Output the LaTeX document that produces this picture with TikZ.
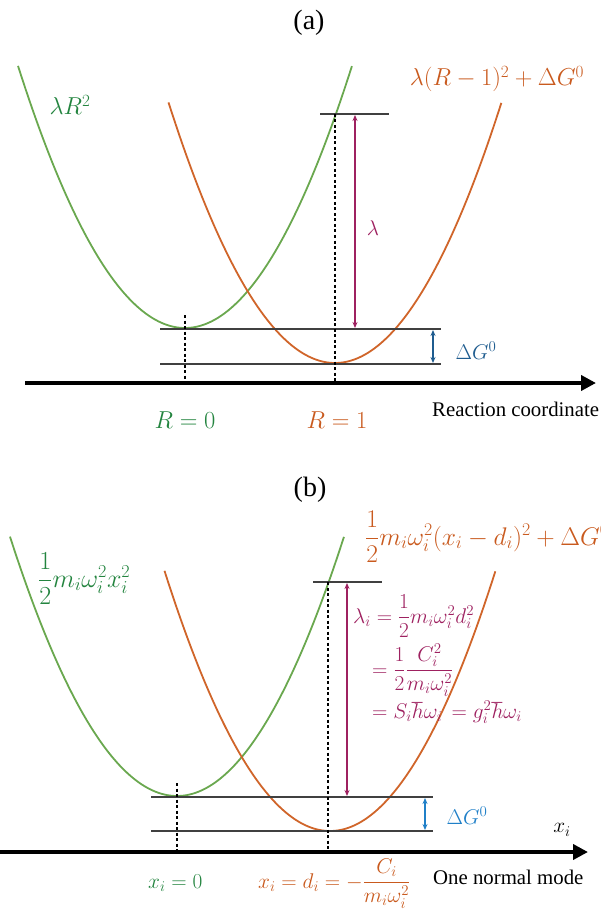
\RequirePackage{fix-cm}
\documentclass[tikz,border=0pt]{standalone}
\usepackage{amsmath}
\usepackage{fontspec}
\setmainfont{Liberation Serif}
\usetikzlibrary{arrows.meta}
\definecolor{cgreen}{HTML}{6AA84F}
\definecolor{tgreen}{HTML}{23843F}
\definecolor{corange}{HTML}{D0652A}
\definecolor{torange}{HTML}{C95A1E}
\definecolor{cmag}{HTML}{9E2160}
\definecolor{cdblue}{HTML}{1F5C8F}
\definecolor{clblue}{HTML}{2080C8}
\tikzset{
  gcurve/.style={draw=cgreen, line width=1.8pt},
  ocurve/.style={draw=corange, line width=1.8pt},
  hline/.style={draw=black!75, line width=1.4pt},
  guide/.style={draw=black, line width=1.6pt, dash pattern=on 3pt off 2.5pt},
  axisline/.style={draw=black, line width=4pt, -{Triangle[length=15pt,width=15pt]}},
  dbl/.style={line width=1.6pt, {Stealth[length=6pt,width=5pt]}-{Stealth[length=6pt,width=5pt]}},
  lbl/.style={inner sep=0pt},
  ptitle/.style={font=\fontsize{28}{32}\selectfont},
  plain/.style={font=\fontsize{20.8}{24}\selectfont},
  fa/.style={font=\fontsize{24.5}{28}\selectfont},
  fo/.style={font=\fontsize{25.5}{29}\selectfont},
  fb/.style={font=\fontsize{21.3}{25}\selectfont},
  fg/.style={font=\fontsize{26}{30}\selectfont},
}
\begin{document}
\begin{tikzpicture}[x=1pt,y=-1pt]
\useasboundingbox (0,0) rectangle (600,909);
% ================= (a) =================
\node[lbl,ptitle] (ta) at (309,23) {(a)};
\draw[gcurve] plot[domain=-1.67:1.67, samples=120, smooth] ({185+100*\x},{328-94*\x*\x});
\draw[ocurve] plot[domain=-1.665:1.665, samples=120, smooth] ({335+100*\x},{363-94*\x*\x});
\coordinate (a1L) at (320,114); \coordinate (a1R) at (389,114);
\coordinate (a2L) at (160,329); \coordinate (a2R) at (441,329);
\coordinate (a3L) at (160,364); \coordinate (a3R) at (441,364);
\draw[hline] (a1L) -- (a1R);
\draw[hline] (a2L) -- (a2R);
\draw[hline] (a3L) -- (a3R);
\coordinate (aax0) at (25,383); \coordinate (aax1) at (596,383);
\coordinate (ad0t) at (185,315); \coordinate (ad0b) at (185,383);
\coordinate (ad1t) at (335,114); \coordinate (ad1b) at (335,383);
\draw[guide] (ad0t) -- (ad0b);
\draw[guide] (ad1t) -- (ad1b);
\draw[axisline] (aax0) -- (aax1);
\coordinate (alt) at (355,115); \coordinate (alb) at (355,328);
\draw[dbl, cmag] (alt) -- (alb);
\coordinate (agt) at (433,330); \coordinate (agb) at (433,363);
\draw[dbl, cdblue] (agt) -- (agb);
\node[lbl,fa,text=tgreen,anchor=base] (alr) at (70,115) {$\lambda R^2$};
\node[lbl,fa,text=torange] (alo) at (497,79) {$\lambda(R-1)^2+\Delta G^0$};
\node[lbl,fb,text=cmag] (all) at (373,228) {$\lambda$};
\node[lbl,fb,text=cdblue] (adg) at (476,351) {$\Delta G^0$};
\node[lbl,fa,text=tgreen,anchor=base] (ar0) at (185,428) {$R=0$};
\node[lbl,fa,text=torange,anchor=base] (ar1) at (337,428) {$R=1$};
\node[lbl,plain,anchor=base west] (arc) at (432,416) {Reaction coordinate};
% ================= (b) =================
\node[lbl,ptitle] (tb) at (310,490) {(b)};
\draw[gcurve] plot[domain=-1.67:1.67, samples=120, smooth] ({177+100*\x},{796-93*\x*\x});
\draw[ocurve] plot[domain=-1.655:1.655, samples=120, smooth] ({330+100*\x},{831-95*\x*\x});
\coordinate (b1L) at (313,582); \coordinate (b1R) at (382,582);
\coordinate (b2L) at (151,797); \coordinate (b2R) at (433,797);
\coordinate (b3L) at (151,831); \coordinate (b3R) at (433,831);
\draw[hline] (b1L) -- (b1R);
\draw[hline] (b2L) -- (b2R);
\draw[hline] (b3L) -- (b3R);
\coordinate (bax0) at (0,852); \coordinate (bax1) at (588,852);
\coordinate (bd0t) at (177,783); \coordinate (bd0b) at (177,852);
\coordinate (bd1t) at (328,582); \coordinate (bd1b) at (328,852);
\draw[guide] (bd0t) -- (bd0b);
\draw[guide] (bd1t) -- (bd1b);
\draw[axisline] (bax0) -- (bax1);
\coordinate (blt) at (347,583); \coordinate (blb) at (347,796);
\draw[dbl, cmag] (blt) -- (blb);
\coordinate (bgt) at (425,798); \coordinate (bgb) at (425,830);
\draw[dbl, clblue] (bgt) -- (bgb);
\node[lbl,fg,text=tgreen,anchor=base west] (bgl) at (38,587) {$\dfrac{1}{2}m_i\omega_i^2x_i^2$};
\node[lbl,fo,text=torange,anchor=base west] (bol) at (365,545) {$\dfrac{1}{2}m_i\omega_i^2(x_i-d_i)^2+\Delta G^0$};
\node[lbl,fb,text=cmag,anchor=base west] (be1) at (353,623) {$\lambda_i=\dfrac{1}{2}m_i\omega_i^2d_i^2$};
\node[lbl,fb,text=cmag,anchor=base west] (be2) at (372,676) {$=\dfrac{1}{2}\dfrac{C_i^2}{m_i\omega_i^2}$};
\node[lbl,fb,text=cmag,anchor=base west] (be3) at (372,718) {$=S_i\hbar\omega_i\,=g_i^2\hbar\omega_i$};
\node[lbl,fb,text=clblue] (bdg) at (467,816) {$\Delta G^0$};
\node[lbl,fb] (bxi) at (562,830) {$x_i$};
\node[lbl,fb,text=tgreen,anchor=base west] (bx0) at (148,888) {$x_i=0$};
\node[lbl,fb,text=torange,anchor=base west] (bxd) at (258,888) {$x_i=d_i=-\dfrac{C_i}{m_i\omega_i^2}$};
\node[lbl,plain,anchor=base west] (bnm) at (433,884) {One normal mode};
\end{tikzpicture}
\end{document}
